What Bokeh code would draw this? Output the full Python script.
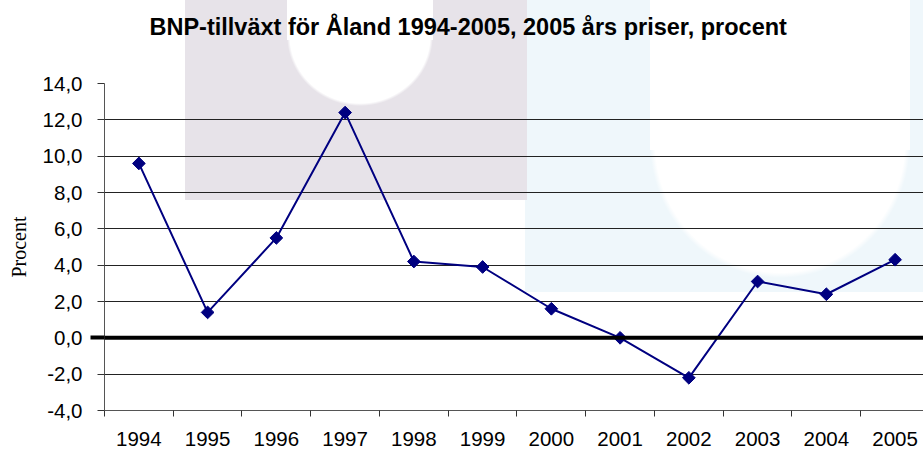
import numpy as np
from bokeh.plotting import figure
from bokeh.models import Range1d, FixedTicker, Span, LinearAxis
from bokeh.embed import file_html
from bokeh.resources import INLINE

# ---- data ----
years = ["1994", "1995", "1996", "1997", "1998", "1999",
         "2000", "2001", "2002", "2003", "2004", "2005"]
growth = [9.6, 1.4, 5.5, 12.4, 4.2, 3.9, 1.6, 0.0, -2.2, 3.1, 2.4, 4.3]
y_ticks = [-4, -2, 0, 2, 4, 6, 8, 10, 12, 14]
y_tick_labels = ["-4,0", "-2,0", "0,0", "2,0", "4,0", "6,0",
                 "8,0", "10,0", "12,0", "14,0"]
title_text = "BNP-tillväxt för Åland 1994-2005, 2005 års priser, procent"
y_label = "Procent"

x_centers = [i + 0.5 for i in range(len(years))]
x_bounds = list(range(len(years) + 1))

p = figure(width=923, height=450,
           x_range=Range1d(0, 11.913), y_range=Range1d(-4, 14),
           output_backend="svg", toolbar_location=None,
           min_border_left=104, min_border_right=0,
           min_border_top=83, min_border_bottom=40,
           title=title_text)

p.background_fill_alpha = 0
p.border_fill_alpha = 0
p.outline_line_color = None

# faint watermark behind the chart (CSS background of the figure element)
lav = "#e7e3e9"
blu = "#eff7fb"
p.styles = {
    "background-image": ", ".join([
        "linear-gradient(#fff,#fff)",
        "radial-gradient(ellipse closest-side, #fff 96%, rgba(255,255,255,0) 100%)",
        "linear-gradient(#fff,#fff)",
        "radial-gradient(ellipse closest-side, #fff 96%, rgba(255,255,255,0) 100%)",
        f"linear-gradient({lav},{lav})",
        f"linear-gradient({blu},{blu})",
    ]),
    "background-size": "146px 40px, 146px 140px, 260px 150px, 260px 270px, 342px 200px, 398px 292px",
    "background-position": "287px 0px, 287px -34px, 650px 0px, 650px 8px, 185px 0px, 525px 0px",
    "background-repeat": "no-repeat",
}

# axes
ax = p.xaxis[0]
ax.ticker = FixedTicker(ticks=x_centers, minor_ticks=x_bounds)
ax.major_label_overrides = {c: yr for c, yr in zip(x_centers, years)}
ax.major_tick_out = 0
ax.major_tick_in = 0
ax.minor_tick_out = 6
ax.minor_tick_in = 0
ax.minor_tick_line_color = "#333333"
ax.axis_line_color = "#555555"
ax.major_label_standoff = 15
ax.major_label_text_font = "Liberation Sans"
ax.major_label_text_font_size = "20.5px"
ax.major_label_text_color = "black"

ay = p.yaxis[0]
ay.ticker = FixedTicker(ticks=y_ticks, minor_ticks=[0])
ay.major_label_overrides = dict(zip(y_ticks, y_tick_labels))
ay.major_tick_out = 7
ay.major_tick_in = 0
ay.major_tick_line_color = "#333333"
ay.minor_tick_out = 14
ay.minor_tick_in = 0
ay.minor_tick_line_width = 4
ay.minor_tick_line_color = "black"
ay.axis_line_color = "#555555"
ay.major_label_standoff = 8
ay.major_label_text_font = "Liberation Sans"
ay.major_label_text_font_size = "20.5px"
ay.major_label_text_color = "black"
ay.axis_label = y_label
ay.axis_label_text_font = "Liberation Serif"
ay.axis_label_text_font_style = "normal"
ay.axis_label_text_font_size = "20px"
ay.axis_label_text_color = "black"
ay.axis_label_standoff = 10

# invisible spacer axis above the frame, so that the title sits higher
spacer = LinearAxis(ticker=FixedTicker(ticks=[]), major_tick_out=0,
                    major_tick_in=0, minor_tick_out=0, minor_tick_in=0,
                    axis_line_color=None, major_tick_line_color=None,
                    minor_tick_line_color=None,
                    axis_label="\u00a0", axis_label_text_font_size="10px",
                    axis_label_standoff=25)
p.add_layout(spacer, "above")

p.xgrid.visible = False
p.ygrid.ticker = FixedTicker(ticks=y_ticks)
p.ygrid.grid_line_color = "#222222"
p.ygrid.grid_line_width = 1

p.add_layout(Span(location=0, dimension="width", line_color="black", line_width=4))

p.line(x_centers, growth, line_color="#000080", line_width=2)
p.scatter(x_centers, growth, marker="square", angle=np.pi / 4, size=9,
          fill_color="#000080", line_color="#000080")

p.title.align = "left"
p.title.offset = 45
p.title.text_font = "Liberation Sans"
p.title.text_font_style = "bold"
p.title.text_font_size = "23.5px"
p.title.text_color = "black"
p.title.standoff = 10

open("out.html", "w").write(file_html(p, INLINE))
